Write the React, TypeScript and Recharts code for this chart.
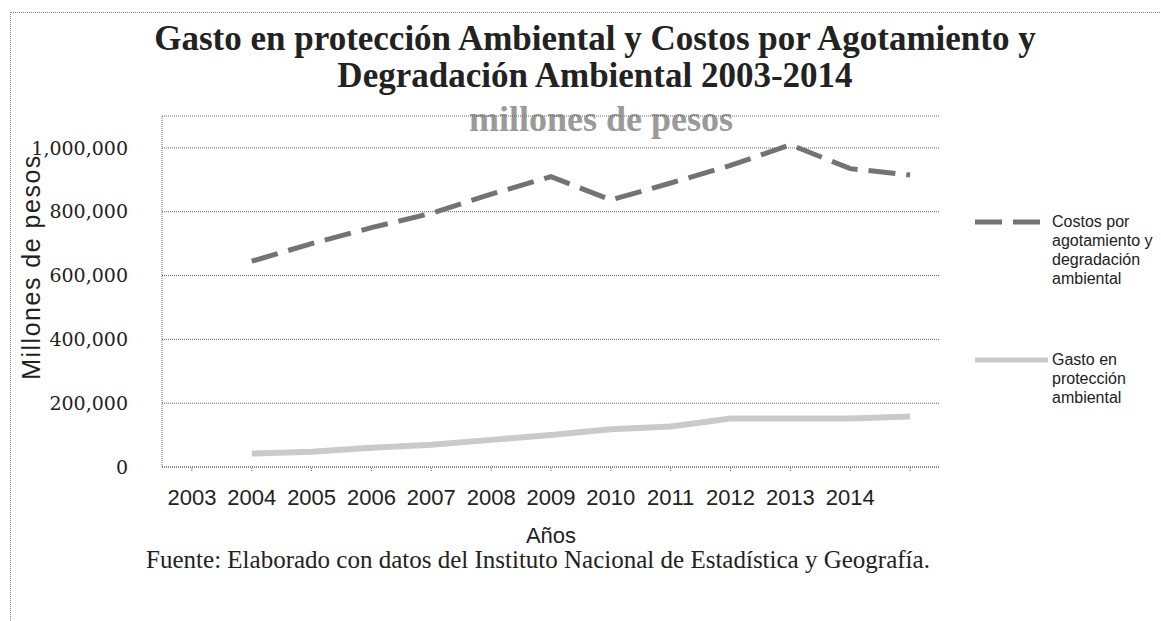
import { LineChart, Line, XAxis, YAxis, CartesianGrid, Legend } from 'recharts';

// Etiquetas del eje X (la última ranura queda sin etiqueta, como en el original)
const years = ['2003', '2004', '2005', '2006', '2007', '2008', '2009', '2010', '2011', '2012', '2013', '2014', ''];

// Millones de pesos
const costos = [null, 645000, 700000, 750000, 795000, 855000, 910000, 837000, 890000, 945000, 1010000, 935000, 915000];
const gasto = [null, 42000, 48000, 60000, 70000, 85000, 100000, 118000, 127000, 152000, 152000, 152000, 158000];

const yTicks = [0, 200000, 400000, 600000, 800000, 1000000];

const COSTOS_NAME = 'Costos por agotamiento y degradación ambiental';
const GASTO_NAME = 'Gasto en protección ambiental';

const data = years.map((year, i) => ({
  year,
  costos: costos[i],
  gasto: gasto[i],
}));

const fmt = (v: number) => v.toLocaleString('en-US');

function LegendBox({ payload }: any) {
  return (
    <div style={{ fontFamily: '"Liberation Sans", Arial, sans-serif', fontSize: 16, color: '#222' }}>
      {(payload || []).map((entry: any, i: number) => (
        <div key={entry.value} style={{ display: 'flex', alignItems: 'flex-start', marginBottom: i === 0 ? 62 : 0 }}>
          <svg width={75} height={20} style={{ flex: 'none' }}>
            <line
              x1={0}
              x2={73}
              y1={10}
              y2={10}
              stroke={entry.color}
              strokeWidth={5}
              strokeDasharray={entry.payload?.strokeDasharray}
            />
          </svg>
          <div style={{ width: 112, lineHeight: '19px', marginLeft: 2 }}>{entry.value}</div>
        </div>
      ))}
    </div>
  );
}

export default function App() {
  return (
    <div
      style={{
        position: 'absolute',
        left: 0,
        top: 0,
        width: 1161,
        height: 621,
        background: '#fff',
        overflow: 'hidden',
      }}
    >
      {/* marco */}
      <div
        style={{
          position: 'absolute',
          left: 10,
          top: 12,
          width: 1161,
          height: 620,
          borderTop: '1px dotted #888',
          borderLeft: '1px dotted #888',
        }}
      />
      <div
        style={{
          position: 'absolute',
          left: 0,
          width: 1190,
          top: 20,
          textAlign: 'center',
          fontFamily: '"Liberation Serif", "Times New Roman", serif',
          fontWeight: 'bold',
          fontSize: 35,
          lineHeight: '37px',
          color: '#222',
        }}
      >
        Gasto en protección Ambiental y Costos por Agotamiento y
        <br />
        Degradación Ambiental 2003-2014
      </div>
      <div
        style={{
          position: 'absolute',
          left: 0,
          width: 1202,
          top: 100,
          textAlign: 'center',
          fontFamily: '"Liberation Serif", "Times New Roman", serif',
          fontWeight: 'bold',
          fontSize: 36,
          lineHeight: '38px',
          color: '#9a9a9a',
        }}
      >
        millones de pesos
      </div>
      <div
        style={{
          position: 'absolute',
          left: 0,
          width: 1076,
          top: 546,
          textAlign: 'center',
          fontFamily: '"Liberation Serif", "Times New Roman", serif',
          fontSize: 25,
          lineHeight: '28px',
          color: '#222',
        }}
      >
        Fuente: Elaborado con datos del Instituto Nacional de Estadística y Geografía.
      </div>
      <div style={{ position: 'absolute', left: 0, top: 0 }}>
        <LineChart width={1161} height={621} data={data} margin={{ top: 116, right: 221, bottom: 114, left: 62 }}>
          <CartesianGrid vertical={false} stroke="#666" strokeDasharray="1 1" />
          <XAxis
            dataKey="year"
            scale="band"
            height={40}
            interval={0}
            stroke="#666"
            strokeDasharray="1 1"
            tickSize={4}
            tickMargin={18}
            tick={{ fill: '#222', fontSize: 22, fontFamily: '"Liberation Sans", Arial, sans-serif' }}
            label={{
              content: () => (
                <text
                  x={551}
                  y={543}
                  textAnchor="middle"
                  fill="#222"
                  fontSize={22}
                  fontFamily='"Liberation Sans", Arial, sans-serif'
                >
                  Años
                </text>
              ),
            }}
          />
          <YAxis
            width={100}
            domain={[0, 1100000]}
            ticks={yTicks}
            tickFormatter={fmt}
            stroke="#666"
            strokeDasharray="1 1"
            tickLine={false}
            tickSize={0}
            tickMargin={34}
            tick={{ fill: '#222', fontSize: 19, fontFamily: '"DejaVu Serif", serif' }}
            label={{
              content: () => (
                <text
                  x={40}
                  y={267}
                  transform="rotate(-90 40 267)"
                  textAnchor="middle"
                  fill="#222"
                  fontSize={25}
                  letterSpacing={1.5}
                  fontFamily='"Liberation Sans", Arial, sans-serif'
                >
                  Millones de pesos
                </text>
              ),
            }}
          />
          <Legend
            layout="horizontal"
            verticalAlign="middle"
            align="center"
            content={<LegendBox />}
            wrapperStyle={{ position: 'absolute', left: 975, top: 212, width: 190 }}
          />
          <Line
            name={COSTOS_NAME}
            dataKey="costos"
            type="linear"
            stroke="#737373"
            strokeWidth={5}
            strokeDasharray="27 11"
            dot={false}
            activeDot={false}
            isAnimationActive={false}
          />
          <Line
            name={GASTO_NAME}
            dataKey="gasto"
            type="linear"
            stroke="#cacaca"
            strokeWidth={6}
            dot={false}
            activeDot={false}
            isAnimationActive={false}
          />
        </LineChart>
      </div>
    </div>
  );
}
